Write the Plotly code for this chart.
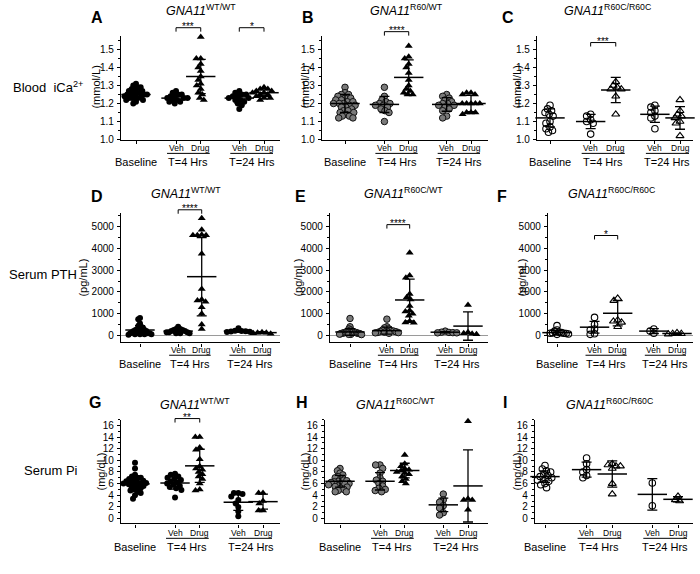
import plotly.graph_objects as go

W, H = 700, 574
FONT = "Liberation Sans, Arial, sans-serif"

GROUPS = ["Baseline", "Veh T=4 Hrs", "Drug T=4 Hrs", "Veh T=24 Hrs", "Drug T=24 Hrs"]

# ---------------- Blood iCa2+ (mmol/L) ----------------
A_base = [1.31, 1.30, 1.29, 1.29, 1.28, 1.28, 1.27, 1.27, 1.26, 1.26, 1.26, 1.25, 1.25, 1.25, 1.25,
          1.24, 1.24, 1.24, 1.23, 1.23, 1.23, 1.22, 1.22, 1.21, 1.20]
A_veh4 = [1.27, 1.26, 1.25, 1.25, 1.24, 1.24, 1.23, 1.23, 1.23, 1.22, 1.22, 1.21, 1.21, 1.20]
A_drug4 = [1.57, 1.45, 1.45, 1.42, 1.40, 1.38, 1.35, 1.33, 1.31, 1.30, 1.28, 1.26, 1.25, 1.23, 1.22]
A_veh24 = [1.27, 1.26, 1.25, 1.25, 1.24, 1.24, 1.23, 1.23, 1.22, 1.22, 1.21, 1.20, 1.19, 1.17]
A_drug24 = [1.29, 1.28, 1.28, 1.27, 1.27, 1.26, 1.26, 1.25, 1.25, 1.24, 1.23, 1.23, 1.22]
A_mean = [1.25, 1.23, 1.35, 1.23, 1.26]
A_sd = [0.028, 0.02, 0.095, 0.028, 0.022]

B_base = [1.29, 1.26, 1.25, 1.25, 1.24, 1.23, 1.23, 1.22, 1.22, 1.21, 1.21, 1.20, 1.20, 1.20, 1.19,
          1.19, 1.18, 1.18, 1.17, 1.16, 1.16, 1.15, 1.15, 1.14, 1.13, 1.13, 1.12, 1.12]
B_veh4 = [1.29, 1.24, 1.22, 1.21, 1.20, 1.20, 1.19, 1.19, 1.18, 1.17, 1.16, 1.15, 1.10]
B_drug4 = [1.52, 1.46, 1.45, 1.42, 1.40, 1.37, 1.33, 1.30, 1.28, 1.27, 1.26, 1.25, 1.25]
B_veh24 = [1.25, 1.24, 1.23, 1.22, 1.21, 1.20, 1.20, 1.19, 1.19, 1.18, 1.17, 1.16, 1.13, 1.12]
B_drug24 = [1.26, 1.26, 1.25, 1.25, 1.20, 1.20, 1.20, 1.20, 1.20, 1.15, 1.15, 1.15, 1.14]
B_mean = [1.20, 1.195, 1.345, 1.195, 1.20]
B_sd = [0.05, 0.045, 0.097, 0.038, 0.045]

C_base = [1.19, 1.17, 1.16, 1.15, 1.14, 1.13, 1.10, 1.09, 1.07, 1.06, 1.05, 1.04]
C_veh4 = [1.14, 1.13, 1.11, 1.10, 1.09, 1.03]
C_drug4 = [1.32, 1.30, 1.29, 1.28, 1.28, 1.24, 1.14]
C_veh24 = [1.19, 1.18, 1.16, 1.15, 1.13, 1.12, 1.06]
C_drug24 = [1.22, 1.16, 1.14, 1.13, 1.12, 1.10, 1.09, 1.02]
C_mean = [1.12, 1.10, 1.275, 1.14, 1.12]
C_sd = [0.05, 0.04, 0.07, 0.045, 0.063]

# ---------------- Serum PTH (pg/mL) ----------------
D_base = [800, 750, 550, 450, 400, 350, 300, 300, 250, 250, 200, 200, 200, 150, 150, 150,
          100, 100, 100, 100, 50, 50, 50, 50, 30]
D_veh4 = [400, 300, 300, 250, 250, 200, 200, 200, 150, 150, 150, 100, 100, 100]
D_drug4 = [5380, 4850, 4620, 4600, 4600, 4600, 3750, 2130, 1650, 1600, 1550, 1300, 1000, 500, 300]
D_veh24 = [330, 220, 200, 190, 180, 170, 160]
D_drug24 = [150, 130, 120, 100, 80]
D_mean = [250, 200, 2700, 200, 130]
D_sd = [200, 80, 1800, 60, 40]

E_base = [780, 400, 300, 250, 200, 200, 180, 170, 160, 150, 150, 140, 130, 120, 110, 100,
          100, 90, 80, 70, 60, 50, 50, 40]
E_veh4 = [750, 400, 350, 300, 250, 220, 200, 200, 180, 170, 150, 140, 130, 120, 100]
E_drug4 = [3800, 2750, 2650, 1900, 1750, 1650, 1350, 1150, 1100, 1000, 900, 650, 600, 580]
E_veh24 = [200, 150, 140, 130, 120, 120]
E_drug24 = [1400, 150, 100, 80, 50]
E_mean = [160, 220, 1630, 150, 430]
E_sd = [150, 160, 960, 30, 650]

F_base = [450, 250, 200, 150, 130, 120, 100, 100, 90, 80, 70, 60, 50]
F_veh4 = [830, 500, 300, 250, 80, 50]
F_drug4 = [1700, 1600, 700, 650, 600, 400]
F_veh24 = [300, 200, 100]
F_drug24 = [120, 80, 80, 60]
F_mean = [130, 380, 1020, 200, 90]
F_sd = [100, 270, 580, 110, 25]

# ---------------- Serum Pi (mg/dL) ----------------
G_base = [9.6, 8.6, 7.5, 7.2, 7.0, 7.0, 6.8, 6.6, 6.5, 6.4, 6.3, 6.2, 6.1, 6.0, 6.0, 5.9, 5.8,
          5.6, 5.5, 5.4, 5.2, 5.0, 4.8, 4.6, 4.4, 4.0, 3.4]
G_veh4 = [7.7, 7.5, 7.2, 7.0, 6.8, 6.6, 6.4, 6.2, 6.0, 5.8, 5.6, 5.4, 5.2, 4.9, 3.6]
G_drug4 = [14.0, 14.0, 12.2, 11.8, 10.2, 9.0, 8.6, 8.4, 8.0, 7.6, 7.2, 6.8, 6.0, 5.0, 4.8]
G_veh24 = [4.4, 4.4, 4.2, 3.8, 3.2, 2.6, 2.0, 1.2, 0.4]
G_drug24 = [4.4, 4.4, 3.0, 2.6, 1.4, 1.4]
G_mean = [5.95, 6.1, 9.05, 2.8, 2.9]
G_sd = [1.2, 1.05, 2.85, 1.4, 1.3]

H_base = [8.6, 8.2, 7.8, 7.5, 7.2, 7.0, 6.8, 6.6, 6.5, 6.4, 6.3, 6.2, 6.0, 6.0, 5.9, 5.8, 5.6,
          5.5, 5.4, 5.2, 5.0, 4.8, 4.6, 4.6]
H_veh4 = [9.2, 9.2, 8.6, 7.8, 7.0, 6.6, 6.4, 6.0, 5.6, 5.2, 5.0, 4.8, 4.6]
H_drug4 = [10.9, 9.4, 9.0, 8.6, 8.4, 8.2, 8.0, 7.8, 7.6, 7.2, 6.8, 6.4, 6.0]
H_veh24 = [4.2, 3.2, 2.8, 2.2, 1.8, 1.0, 0.6]
H_drug24 = [16.7, 3.4, 3.2, 3.2, 1.5]
H_mean = [6.4, 6.4, 8.25, 2.35, 5.6]
H_sd = [1.0, 1.5, 1.25, 1.15, 6.2]

I_base = [9.1, 8.5, 8.2, 8.0, 7.6, 7.4, 7.2, 7.0, 6.8, 6.6, 6.4, 6.0, 5.8, 5.3]
I_veh4 = [10.4, 9.4, 8.4, 8.0, 7.4, 7.0]
I_drug4 = [9.4, 9.2, 9.0, 9.0, 8.6, 6.0, 4.2]
I_veh24 = [6.1, 2.2]
I_drug24 = [3.8, 3.2, 3.0]
I_mean = [7.2, 8.4, 7.65, 4.15, 3.3]
I_sd = [1.0, 1.3, 2.25, 2.7, 0.45]

DATA = {
    "A": ([A_base, A_veh4, A_drug4, A_veh24, A_drug24], A_mean, A_sd),
    "B": ([B_base, B_veh4, B_drug4, B_veh24, B_drug24], B_mean, B_sd),
    "C": ([C_base, C_veh4, C_drug4, C_veh24, C_drug24], C_mean, C_sd),
    "D": ([D_base, D_veh4, D_drug4, D_veh24, D_drug24], D_mean, D_sd),
    "E": ([E_base, E_veh4, E_drug4, E_veh24, E_drug24], E_mean, E_sd),
    "F": ([F_base, F_veh4, F_drug4, F_veh24, F_drug24], F_mean, F_sd),
    "G": ([G_base, G_veh4, G_drug4, G_veh24, G_drug24], G_mean, G_sd),
    "H": ([H_base, H_veh4, H_drug4, H_veh24, H_drug24], H_mean, H_sd),
    "I": ([I_base, I_veh4, I_drug4, I_veh24, I_drug24], I_mean, I_sd),
}

GENOTYPES = {"A": "WT/WT", "B": "R60/WT", "C": "R60C/R60C",
             "D": "WT/WT", "E": "R60C/WT", "F": "R60C/R60C",
             "G": "WT/WT", "H": "R60C/WT", "I": "R60C/R60C"}

SIGNIF = [("A", 1, 2, "***"), ("A", 3, 4, "*"), ("B", 1, 2, "****"), ("C", 1, 2, "***"),
          ("D", 1, 2, "****"), ("E", 1, 2, "****"), ("F", 1, 2, "*"), ("G", 1, 2, "**")]

# ---------------- layout geometry (pixels) ----------------
POS = [0, 1.62, 2.62, 4.18, 5.18]

ROWS = [
    dict(top=36, bot=141, yr=(1.0, 1.577), tick0=1.0, dtick=0.1, minor=0.05, fmt=".1f",
         unit="(mmol/L)", title_y=10, letter_y=18, veh_y=150, line_y=155, lab_y=164,
         zero=False, label="Blood  iCa<sup>2+</sup>", label_x=11, label_y=88),
    dict(top=215, bot=346, yr=(-318, 5636), tick0=0, dtick=1000, minor=500, fmt="d",
         unit="(pg/mL)", title_y=195, letter_y=199, veh_y=354, line_y=359, lab_y=368,
         zero=True, label="Serum PTH", label_x=7, label_y=277),
    dict(top=424, bot=529, yr=(-0.85, 17.0), tick0=0, dtick=2, minor=1, fmt="d",
         unit="(mg/dL)", title_y=408, letter_y=407, veh_y=539, line_y=544, lab_y=553,
         zero=False, label="Serum Pi", label_x=22, label_y=475),
]

# name, row, axis x0, axis x1, baseline px, last group px, title x, letter x, unit x, style
PANELS = [
    ("A", 0, 121, 280, 136, 264, 201, 97, 96, "filled"),
    ("B", 0, 322, 488, 345, 471, 406, 308, 305, "gray"),
    ("C", 0, 537, 693, 550, 680, 607, 508, 517, "open"),
    ("D", 1, 121, 280, 140, 262, 186, 97, 83, "filled"),
    ("E", 1, 330, 488, 350, 468, 403, 300, 298, "gray"),
    ("F", 1, 548, 693, 557, 677, 611, 502, 522, "open"),
    ("G", 2, 121, 280, 135, 263, 195, 95, 101, "filled"),
    ("H", 2, 325, 488, 340, 468, 395, 302, 305, "gray"),
    ("I", 2, 535, 693, 545, 678, 609, 505, 517, "open"),
]

BRACKET_Y = {"A": [28, 28], "B": [32], "C": [43], "D": [212], "E": [227], "F": [238], "G": [423]}

SWARM_D = 4.4      # px spacing between neighbouring points
SWARM_HALF = 11.5  # px max half-width of a swarm


def swarm(values, ppu_x, ppu_y, d, half):
    placed = []
    offs = [0.0] * len(values)
    order = sorted(range(len(values)), key=lambda i: -values[i])
    for i in order:
        y = values[i] * ppu_y
        cands = [0.0]
        for xp, yp in placed:
            dy = abs(y - yp)
            if dy < d:
                dx = (d * d - dy * dy) ** 0.5
                cands += [xp + dx, xp - dx]
        cands.sort(key=lambda c: (round(abs(c), 3), c))
        x = 0.0
        for c in cands:
            if all((c - xp) ** 2 + (y - yp) ** 2 >= d * d - 1e-6 for xp, yp in placed):
                x = c
                break
        placed.append((x, y))
        offs[i] = x
    m = max(abs(o) for o in offs) if offs else 0
    k = half / m if m > half else 1.0
    return [o * k / ppu_x for o in offs]


fig = go.Figure()
layout = dict(width=W, height=H, margin=dict(l=0, r=0, t=0, b=0), autosize=False,
              paper_bgcolor="white", plot_bgcolor="white", showlegend=False,
              font=dict(family=FONT, color="black"))
annotations = []
shapes = []

STYLE = {
    "filled": (dict(symbol="circle", size=6, color="black", line=dict(width=0)),
               dict(symbol="triangle-up", size=7, color="black", line=dict(width=0))),
    "gray": (dict(symbol="circle", size=6.5, color="#7a7a7a", line=dict(width=1, color="#111")),
             dict(symbol="triangle-up", size=7, color="black", line=dict(width=0))),
    "open": (dict(symbol="circle-open", size=6.5, color="black", line=dict(width=1.1)),
             dict(symbol="triangle-up-open", size=7, color="black", line=dict(width=1.1))),
}

geom = {}
for idx, (name, r, x0, x1, bpx, lpx, tx, lx, ux, style) in enumerate(PANELS):
    row = ROWS[r]
    s = (lpx - bpx) / POS[-1]
    lo = -(bpx - x0) / s
    hi = POS[-1] + (x1 - lpx) / s
    geom[name] = (x0, lo, s, r)
    sfx = "" if idx == 0 else str(idx + 1)
    xa, ya = "x" + sfx, "y" + sfx
    ppu_y = (row["bot"] - row["top"]) / (row["yr"][1] - row["yr"][0])

    layout["xaxis" + sfx] = dict(domain=[x0 / W, x1 / W], range=[lo, hi], anchor=ya,
                                 showline=True, linecolor="black", linewidth=1.3,
                                 ticks="outside", ticklen=3, tickwidth=1.1, tickcolor="black",
                                 tickvals=POS, showticklabels=False, showgrid=False,
                                 zeroline=False, fixedrange=True)
    layout["yaxis" + sfx] = dict(domain=[1 - row["bot"] / H, 1 - row["top"] / H],
                                 range=list(row["yr"]), anchor=xa,
                                 showline=True, linecolor="black", linewidth=1.3,
                                 ticks="outside", ticklen=3, tickwidth=1.1, tickcolor="black",
                                 tick0=row["tick0"], dtick=row["dtick"], tickformat=row["fmt"],
                                 tickfont=dict(size=10, family=FONT, color="black"),
                                 minor=dict(dtick=row["minor"], ticks="outside", ticklen=2,
                                            tickwidth=1, tickcolor="black", showgrid=False),
                                 showgrid=False, zeroline=row["zero"], zerolinecolor="#9a9a9a",
                                 zerolinewidth=1, fixedrange=True, ticklabelstandoff=1)

    groups, means, sds = DATA[name]
    circ, tri = STYLE[style]
    for g, vals in enumerate(groups):
        offs = swarm(vals, s, ppu_y, SWARM_D, SWARM_HALF)
        mk = tri if g in (2, 4) else circ
        fig.add_trace(go.Scatter(x=[POS[g] + o for o in offs], y=vals, mode="markers",
                                 marker=mk, xaxis=xa, yaxis=ya, cliponaxis=False,
                                 name=GROUPS[g], hoverinfo="y"))
    fig.add_trace(go.Scatter(x=POS, y=means, mode="markers", xaxis=xa, yaxis=ya,
                             marker=dict(symbol="line-ew", size=21, color="black",
                                         line=dict(width=1.5, color="black")),
                             error_y=dict(type="data", array=sds, visible=True, color="black",
                                          thickness=1.3, width=5),
                             cliponaxis=False, hoverinfo="y"))

    def xp(v, x0=x0, lo=lo, s=s):
        return x0 + (v - lo) * s

    annotations.append(dict(x=tx / W, y=1 - row["title_y"] / H, xref="paper", yref="paper",
                            text="<i>GNA11</i><sup>" + GENOTYPES[name] + "</sup>",
                            showarrow=False, font=dict(size=12.5, family=FONT, color="black"),
                            xanchor="center", yanchor="middle"))
    annotations.append(dict(x=lx / W, y=1 - row["letter_y"] / H, xref="paper", yref="paper",
                            text="<b>" + name + "</b>", showarrow=False,
                            font=dict(size=16, family=FONT, color="black"),
                            xanchor="center", yanchor="middle"))
    annotations.append(dict(x=ux / W, y=1 - (row["top"] + row["bot"]) / 2 / H, xref="paper",
                            yref="paper", text=row["unit"], textangle=-90, showarrow=False,
                            font=dict(size=11, family=FONT, color="black"),
                            xanchor="center", yanchor="middle"))
    annotations.append(dict(x=xp(POS[0]) / W, y=1 - row["lab_y"] / H, xref="paper", yref="paper",
                            text="Baseline", showarrow=False,
                            font=dict(size=11, family=FONT, color="black"),
                            xanchor="center", yanchor="middle"))
    for (g1, g2, lab) in [(1, 2, "T=4 Hrs"), (3, 4, "T=24 Hrs")]:
        for g, t in [(g1, "Veh"), (g2, "Drug")]:
            annotations.append(dict(x=xp(POS[g]) / W, y=1 - row["veh_y"] / H, xref="paper",
                                    yref="paper", text=t, showarrow=False,
                                    font=dict(size=8.5, family=FONT, color="black"),
                                    xanchor="center", yanchor="middle"))
        annotations.append(dict(x=(xp(POS[g1]) + xp(POS[g2])) / 2 / W, y=1 - row["lab_y"] / H,
                                xref="paper", yref="paper", text=lab, showarrow=False,
                                font=dict(size=11, family=FONT, color="black"),
                                xanchor="center", yanchor="middle"))
        shapes.append(dict(type="line", xref="paper", yref="paper",
                           x0=(xp(POS[g1]) - 9) / W, x1=(xp(POS[g2]) + 9) / W,
                           y0=1 - row["line_y"] / H, y1=1 - row["line_y"] / H,
                           line=dict(color="black", width=1)))

for row in ROWS:
    annotations.append(dict(x=row["label_x"] / W, y=1 - row["label_y"] / H, xref="paper",
                            yref="paper", text=row["label"], showarrow=False,
                            font=dict(size=13, family=FONT, color="black"),
                            xanchor="left", yanchor="middle"))

used = {}
for name, g1, g2, txt in SIGNIF:
    x0, lo, s, r = geom[name]
    k = used.get(name, 0)
    used[name] = k + 1
    yb = BRACKET_Y[name][k]
    xa_ = x0 + (POS[g1] - lo) * s
    xb_ = x0 + (POS[g2] - lo) * s
    path = "M {:.5f},{:.5f} L {:.5f},{:.5f} L {:.5f},{:.5f} L {:.5f},{:.5f}".format(
        xa_ / W, 1 - (yb + 4) / H, xa_ / W, 1 - yb / H, xb_ / W, 1 - yb / H, xb_ / W, 1 - (yb + 4) / H)
    shapes.append(dict(type="path", xref="paper", yref="paper", path=path,
                       line=dict(color="black", width=1)))
    annotations.append(dict(x=(xa_ + xb_) / 2 / W, y=1 - (yb - 1) / H, xref="paper", yref="paper",
                            text=txt, showarrow=False,
                            font=dict(size=10, family=FONT, color="black"),
                            xanchor="center", yanchor="middle"))

layout["annotations"] = annotations
layout["shapes"] = shapes
fig.update_layout(**layout)
fig.write_html("out.html")
